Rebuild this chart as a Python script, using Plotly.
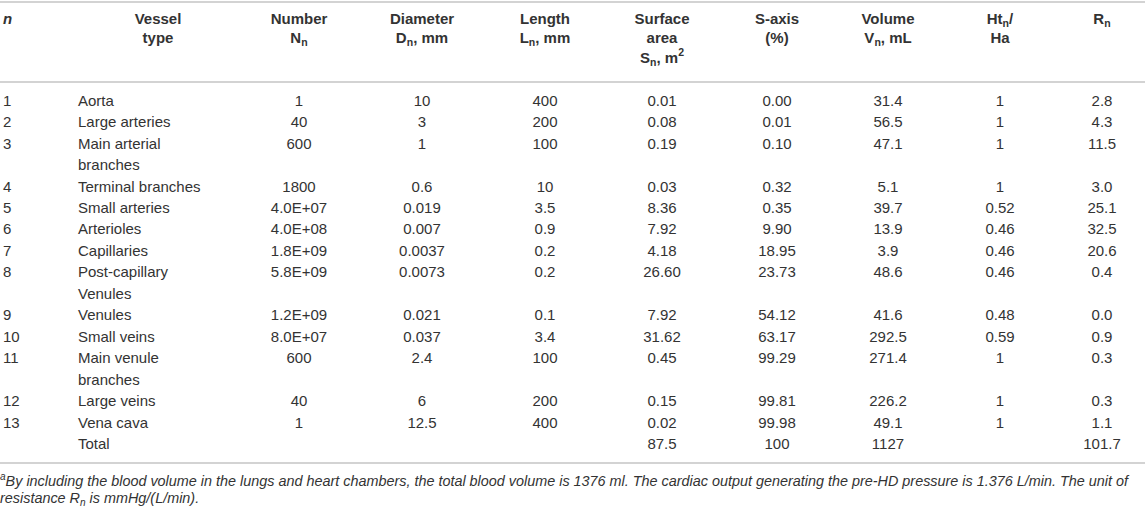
import plotly.graph_objects as go

# table contents
n_idx = ["1", "2", "3", "4", "5", "6", "7", "8", "9", "10", "11", "12", "13", ""]
vessel = ["Aorta", "Large arteries", "Main arterial\nbranches", "Terminal branches",
          "Small arteries", "Arterioles", "Capillaries", "Post-capillary\nVenules",
          "Venules", "Small veins", "Main venule\nbranches", "Large veins",
          "Vena cava", "Total"]
number = ["1", "40", "600", "1800", "4.0E+07", "4.0E+08", "1.8E+09", "5.8E+09",
          "1.2E+09", "8.0E+07", "600", "40", "1", ""]
diameter = ["10", "3", "1", "0.6", "0.019", "0.007", "0.0037", "0.0073",
            "0.021", "0.037", "2.4", "6", "12.5", ""]
length = ["400", "200", "100", "10", "3.5", "0.9", "0.2", "0.2", "0.1", "3.4",
          "100", "200", "400", ""]
surface = ["0.01", "0.08", "0.19", "0.03", "8.36", "7.92", "4.18", "26.60",
           "7.92", "31.62", "0.45", "0.15", "0.02", "87.5"]
s_axis = ["0.00", "0.01", "0.10", "0.32", "0.35", "9.90", "18.95", "23.73",
          "54.12", "63.17", "99.29", "99.81", "99.98", "100"]
volume = ["31.4", "56.5", "47.1", "5.1", "39.7", "13.9", "3.9", "48.6", "41.6",
          "292.5", "271.4", "226.2", "49.1", "1127"]
ht_ratio = ["1", "1", "1", "1", "0.52", "0.46", "0.46", "0.46", "0.48", "0.59",
            "1", "1", "1", ""]
resistance = ["2.8", "4.3", "11.5", "3.0", "25.1", "32.5", "20.6", "0.4", "0.0",
              "0.9", "0.3", "0.3", "1.1", "101.7"]

headers = [["<i>n</i>"], ["Vessel", "type"], ["Number", "N<sub>n</sub>"],
           ["Diameter", "D<sub>n</sub>, mm"], ["Length", "L<sub>n</sub>, mm"],
           ["Surface", "area", "S<sub>n</sub>, m<sup>2</sup>"], ["S-axis", "(%)"],
           ["Volume", "V<sub>n</sub>, mL"], ["Ht<sub>n</sub>/", "Ha"], ["R<sub>n</sub>"]]

footnote = ["<sup>a</sup>By including the blood volume in the lungs and heart chambers, "
            "the total blood volume is 1376 ml. The cardiac output generating the pre-HD "
            "pressure is 1.376 L/min. The unit of",
            "resistance R<sub>n</sub> is mmHg/(L/min)."]

W, H = 1145, 510
FONT = "Liberation Sans"
TXT = "#333333"
RULE = "#c4c4c4"

# column x position and alignment
col_x = [3, 78, 299, 422, 545, 662, 777, 888, 1000, 1102]
head_x = [3, 158, 299, 422, 545, 662, 777, 888, 1000, 1102]
columns = [n_idx, vessel, number, diameter, length, surface, s_axis, volume,
           ht_ratio, resistance]

first_line = 102
pitch = 21.45

# y of each body row, taking wrapped vessel names into account
row_y = []
line = 0
for v in vessel:
    row_y.append(first_line + line * pitch)
    line += len(v.split("\n"))

fig = go.Figure()

for ci, col in enumerate(columns):
    xs, ys, ts = [], [], []
    for ri, val in enumerate(col):
        for li, part in enumerate(val.split("\n")):
            if part == "":
                continue
            xs.append(col_x[ci])
            ys.append(row_y[ri] + li * pitch)
            ts.append(part)
    fig.add_trace(go.Scatter(
        x=xs, y=ys, text=ts, mode="text",
        textposition="middle right" if ci < 2 else "middle center",
        textfont=dict(family=FONT, size=15, color=TXT),
        hoverinfo="skip", showlegend=False))

# header
hx, hy, ht, hpos = [], [], [], []
for ci, lines in enumerate(headers):
    for li, part in enumerate(lines):
        hx.append(head_x[ci])
        hy.append(20 + li * 19.5)
        ht.append("<b>" + part + "</b>")
        hpos.append("middle right" if ci == 0 else "middle center")
fig.add_trace(go.Scatter(
    x=hx, y=hy, text=ht, mode="text", textposition=hpos,
    textfont=dict(family=FONT, size=15, color=TXT),
    hoverinfo="skip", showlegend=False))

# footnote
fig.add_trace(go.Scatter(
    x=[0, 0], y=[482, 499], text=["<i>" + f + "</i>" for f in footnote],
    mode="text", textposition="middle right",
    textfont=dict(family=FONT, size=14.4, color=TXT),
    hoverinfo="skip", showlegend=False))

for yy in [2, 82, 463]:
    fig.add_shape(type="line", x0=0, x1=W, y0=yy, y1=yy,
                  line=dict(color=RULE, width=1.6))

fig.update_layout(
    width=W, height=H,
    margin=dict(l=0, r=0, t=0, b=0),
    paper_bgcolor="white", plot_bgcolor="white",
    xaxis=dict(range=[0, W], visible=False, fixedrange=True),
    yaxis=dict(range=[H, 0], visible=False, fixedrange=True),
)

fig.write_html("out.html", config={"displayModeBar": False},
               post_script="document.body.style.margin='0';")
